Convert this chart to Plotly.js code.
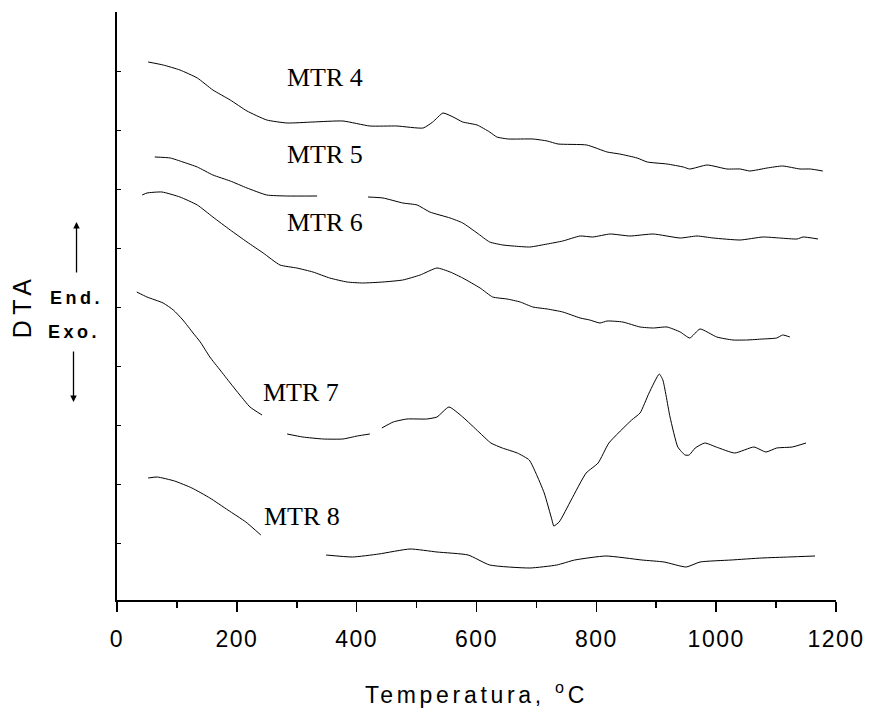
<!DOCTYPE html>
<html>
<head>
<meta charset="utf-8">
<script src="https://cdn.plot.ly/plotly-3.0.1.min.js"></script>
<style>
  html, body { margin: 0; padding: 0; background: #fff; }
  #chart { width: 876px; height: 712px; }
  .xtick text { letter-spacing: 1.5px; }
  .g-xtitle text { letter-spacing: 3.7px; }
  .g-ytitle text { letter-spacing: 5.5px; }
  .annotation[data-index="5"] text, .annotation[data-index="6"] text { letter-spacing: 3.5px; }
</style>
</head>
<body>
<div id="chart"></div>
<script>
// Temperature (°C) and DTA signal (arbitrary units, offset per sample)
const seriesNames = ["MTR 4", "MTR 5", "MTR 6", "MTR 7", "MTR 8"];

const t4 = [52,77,105,134,160,189,217,250,284,327,377,422,467,511,527,544,561,577,601,622,634,653,694,718,736,784,818,839,868,885,918,945,956,985,1018,1040,1056,1085,1111,1140,1157,1178];
const v4 = [538,535,530,522,510,500,489,480,477,478,479,474,474,472,478,487,483,478,475,468,463,461,461,459,456,455,448,446,442,438,436,433,431,435,431,431,429,432,434,431,431,429];

const t5 = [63,89,110,134,160,189,217,250,284,334,376,419,444,477,501,522,556,577,601,622,644,661,689,718,744,773,794,823,856,895,940,968,995,1040,1078,1106,1135,1145,1170];
const v5 = [443,442,438,433,425,419,412,405,404,404,null,403,402,397,395,388,382,377,367,358,355,354,353,356,359,364,363,366,364,366,362,364,362,360,363,362,361,363,361];

const t6 = [42,50,75,105,134,160,189,217,244,272,300,327,355,384,410,444,477,506,534,556,577,606,627,651,673,694,718,744,773,789,806,818,844,873,895,918,940,956,973,1001,1028,1051,1078,1101,1111,1123];
const v6 = [405,407,408,403,395,383,370,358,347,335,332,328,322,318,317,318,320,325,332,328,322,312,303,301,298,293,291,288,282,280,277,279,278,273,272,273,268,262,271,263,260,260,261,262,265,263];

const t7 = [33,50,77,94,110,127,139,155,172,189,205,222,242,263,284,310,344,377,401,422,432,442,461,484,517,534,554,577,604,624,643,668,688,699,713,726,729,738,758,783,803,821,859,873,888,905,911,923,936,948,955,965,981,1000,1031,1063,1083,1101,1127,1150];
const v7 = [308,303,297,290,280,267,258,243,230,217,205,193,185,null,166,163,161,161,164,166,null,172,178,181,181,183,193,183,168,157,152,147,140,127,107,80,74,78,100,127,137,157,180,187,207,226,220,183,153,145,145,152,157,153,147,153,148,152,153,157];

const t8 = [52,67,96,125,155,185,215,240,295,349,393,437,489,534,586,622,689,734,764,816,876,913,950,973,1025,1076,1121,1165];
const v8 = [122,123,119,112,102,90,78,65,null,45,43,46,51,48,45,35,32,35,40,44,40,38,33,38,40,42,43,44];

const xTickVals = [0,200,400,600,800,1000,1200];
const xTickText = ["0","200","400","600","800","1000","1200"];

// label anchor positions (data units)
const labelT = [280, 280, 280, 240, 242];
const labelV = [523, 446, 378, 208, 84];

const allT = [t4, t5, t6, t7, t8];
const allV = [v4, v5, v6, v7, v8];

const traces = allT.map((t, i) => ({
  x: t, y: allV[i], type: "scatter", mode: "lines", name: seriesNames[i],
  connectgaps: false,
  line: { color: "#000", width: 1, shape: "spline", smoothing: 0.5 },
  hoverinfo: "skip"
}));

const annotations = seriesNames.map((n, i) => ({
  x: labelT[i], y: labelV[i], xref: "x", yref: "y", xanchor: "left", yanchor: "middle",
  text: n, showarrow: false,
  font: { family: "Liberation Serif, Times New Roman, serif", size: 26, color: "#000" }
}));

// "End." with its upward arrow, "Exo." with its downward arrow
annotations.push({
  x: -0.0563, y: 378, xref: "paper", yref: "y",
  text: "<b>End.</b>", showarrow: true, ax: 0, ay: 76,
  arrowhead: 2, arrowsize: 1, arrowwidth: 1.3, arrowcolor: "#000", startstandoff: 14,
  font: { family: "Liberation Sans, Arial, sans-serif", size: 18, color: "#000" }
});
annotations.push({
  x: -0.0605, y: 198, xref: "paper", yref: "y",
  text: "<b>Exo.</b>", showarrow: true, ax: 0, ay: -70,
  arrowhead: 2, arrowsize: 1, arrowwidth: 1.3, arrowcolor: "#000", startstandoff: 8,
  font: { family: "Liberation Sans, Arial, sans-serif", size: 18, color: "#000" }
});

const layout = {
  width: 876, height: 712,
  margin: { l: 117, r: 40, t: 12, b: 112 },
  paper_bgcolor: "#fff", plot_bgcolor: "#fff",
  showlegend: false,
  font: { family: "Liberation Sans, Arial, sans-serif", color: "#000" },
  xaxis: {
    range: [0, 1200], showgrid: false, zeroline: false,
    showline: true, linecolor: "#000", linewidth: 1.6,
    ticks: "outside", ticklen: 10, tickwidth: 1.6, tickcolor: "#000",
    tickvals: xTickVals, ticktext: xTickText,
    ticklabelstandoff: 8,
    minor: { ticks: "outside", ticklen: 6, tickwidth: 1.6, tickcolor: "#000", dtick: 100, showgrid: false },
    tickfont: { family: "Liberation Sans, Arial, sans-serif", size: 23, color: "#000" },
    title: { text: "Temperatura, <sup>o</sup>C", standoff: 35,
             font: { family: "Liberation Sans, Arial, sans-serif", size: 23, color: "#000" } }
  },
  yaxis: {
    range: [0, 588], showgrid: false, zeroline: false,
    showline: true, linecolor: "#000", linewidth: 2,
    ticks: "inside", ticklen: 4, tickwidth: 1, tickcolor: "#000",
    tick0: 57, dtick: 58.9, showticklabels: false,
    title: { text: "DTA", standoff: 76,
             font: { family: "Liberation Sans, Arial, sans-serif", size: 25, color: "#000" } }
  },
  annotations: annotations
};

Plotly.newPlot("chart", traces, layout, { displayModeBar: false, staticPlot: true });
</script>
</body>
</html>
